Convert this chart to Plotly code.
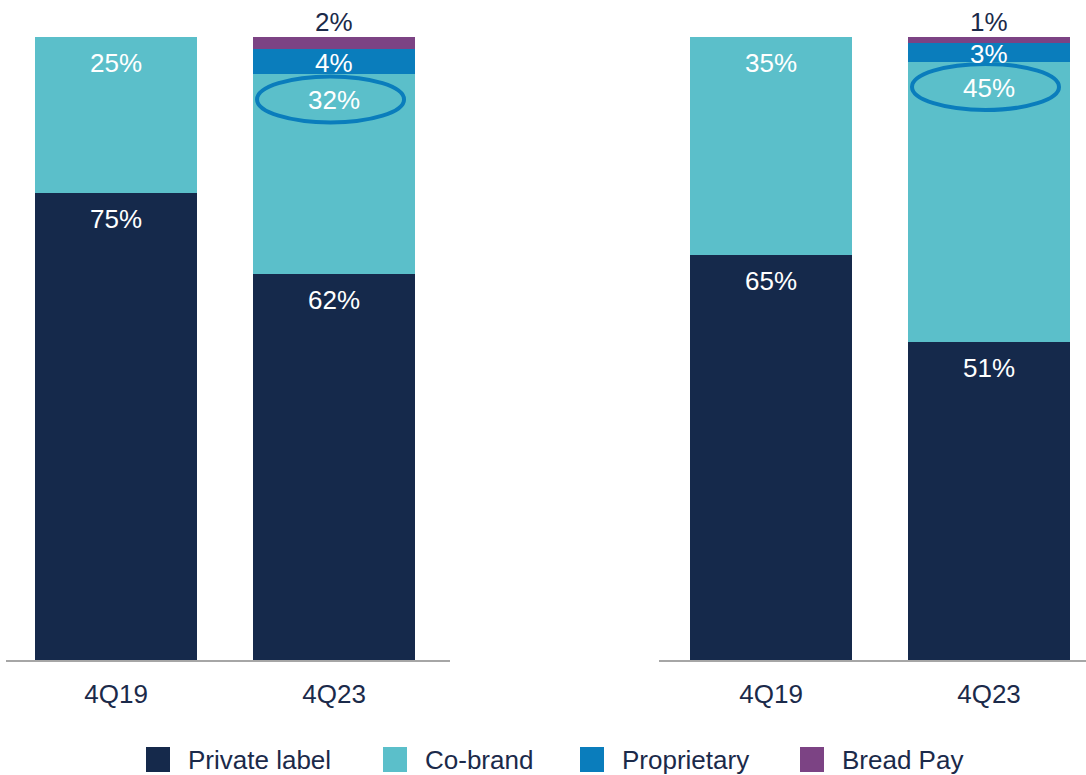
import plotly.graph_objects as go

# ---- data -------------------------------------------------------------
periods = ["4Q19", "4Q23"]
series = ["Private label", "Co-brand", "Proprietary", "Bread Pay"]
colors = ["#15294b", "#5bbfca", "#0a7dbc", "#7c4384"]

# share of total (%), left panel
left_private = [75, 62]
left_cobrand = [25, 32]
left_proprietary = [None, 4]
left_breadpay = [None, 2]

# share of total (%), right panel
right_private = [65, 51]
right_cobrand = [35, 45]
right_proprietary = [None, 3]
right_breadpay = [None, 1]

# ---- styling ----------------------------------------------------------
W, H = 1086, 775
FONT = "Liberation Sans, Arial, sans-serif"
NAVY = "#1b2a4a"
FS = 26
PX_PER_UNIT = 6.23          # vertical pixels per percentage point
Y_BASE_PX = 660             # baseline position from the top

panels = [
    dict(xa="x", ya="y", data=[left_private, left_cobrand, left_proprietary, left_breadpay],
         domain=[6 / W, 450 / W], xrange=[-0.505, 1.532]),
    dict(xa="x2", ya="y2", data=[right_private, right_cobrand, right_proprietary, right_breadpay],
         domain=[659 / W, 1.0], xrange=[-0.514, 1.445]),
]

fig = go.Figure()
annotations = []
shapes = []

for p in panels:
    for name, color, vals in zip(series, colors, p["data"]):
        fig.add_trace(go.Bar(
            x=periods, y=vals, name=name, marker=dict(color=color, line=dict(width=0)),
            xaxis=p["xa"], yaxis=p["ya"], showlegend=False, hoverinfo="skip",
        ))

    # value labels
    for i, period in enumerate(periods):
        base = 0
        for s, vals in enumerate(p["data"]):
            v = vals[i]
            if v is None:
                continue
            top = base + v
            if s < 2:
                y, shift, col = top, -26, "white"
            elif s == 2:
                y, shift, col = base + v / 2, -1, "white"
            else:
                y, shift, col = top, 15, NAVY
            annotations.append(dict(
                x=period, y=y, xref=p["xa"], yref=p["ya"], text=f"{v}%",
                showarrow=False, yanchor="middle", xanchor="center", yshift=shift,
                font=dict(family=FONT, size=FS, color=col),
            ))
            base = top

    # highlight ring around the latest co-brand share
    cob_top = p["data"][0][1] + p["data"][1][1]
    shapes.append(dict(
        type="circle", xref=p["xa"], yref=p["ya"],
        xsizemode="pixel", ysizemode="pixel", xanchor="4Q23", yanchor=cob_top,
        x0=-77, x1=70, y0=-48, y1=-2,
        line=dict(color="#0a7dbc", width=4), fillcolor="rgba(0,0,0,0)",
    ))

# legend drawn as swatches + labels
legend_x = [146, 383, 580, 800]
for name, color, x in zip(series, colors, legend_x):
    shapes.append(dict(
        type="rect", xref="paper", yref="paper",
        x0=x / W, x1=(x + 24) / W, y0=(H - 772) / H, y1=(H - 747) / H,
        fillcolor=color, line=dict(width=0),
    ))
    annotations.append(dict(
        x=(x + 40) / W, y=(H - 760) / H, xref="paper", yref="paper", text=name,
        showarrow=False, xanchor="left", yanchor="middle",
        font=dict(family=FONT, size=FS, color=NAVY),
    ))

y_domain = [(H - Y_BASE_PX) / H, 1.0]
y_range = [0, Y_BASE_PX / PX_PER_UNIT]

axis_x = dict(
    type="category", showgrid=False, zeroline=False, showline=True,
    linecolor="#a6a6a6", linewidth=2, ticks="", ticklabelstandoff=10,
    tickfont=dict(family=FONT, size=FS, color=NAVY), fixedrange=True,
)
axis_y = dict(visible=False, range=y_range, domain=y_domain, fixedrange=True)

fig.update_layout(
    width=W, height=H, margin=dict(l=0, r=0, t=0, b=0),
    paper_bgcolor="white", plot_bgcolor="white",
    barmode="stack", bargap=0.257, showlegend=False,
    font=dict(family=FONT, size=FS, color=NAVY),
    xaxis=dict(axis_x, domain=panels[0]["domain"], range=panels[0]["xrange"], anchor="y"),
    yaxis=dict(axis_y, anchor="x"),
    xaxis2=dict(axis_x, domain=panels[1]["domain"], range=panels[1]["xrange"], anchor="y2"),
    yaxis2=dict(axis_y, anchor="x2"),
    annotations=annotations, shapes=shapes,
)

fig.write_html("out.html")
